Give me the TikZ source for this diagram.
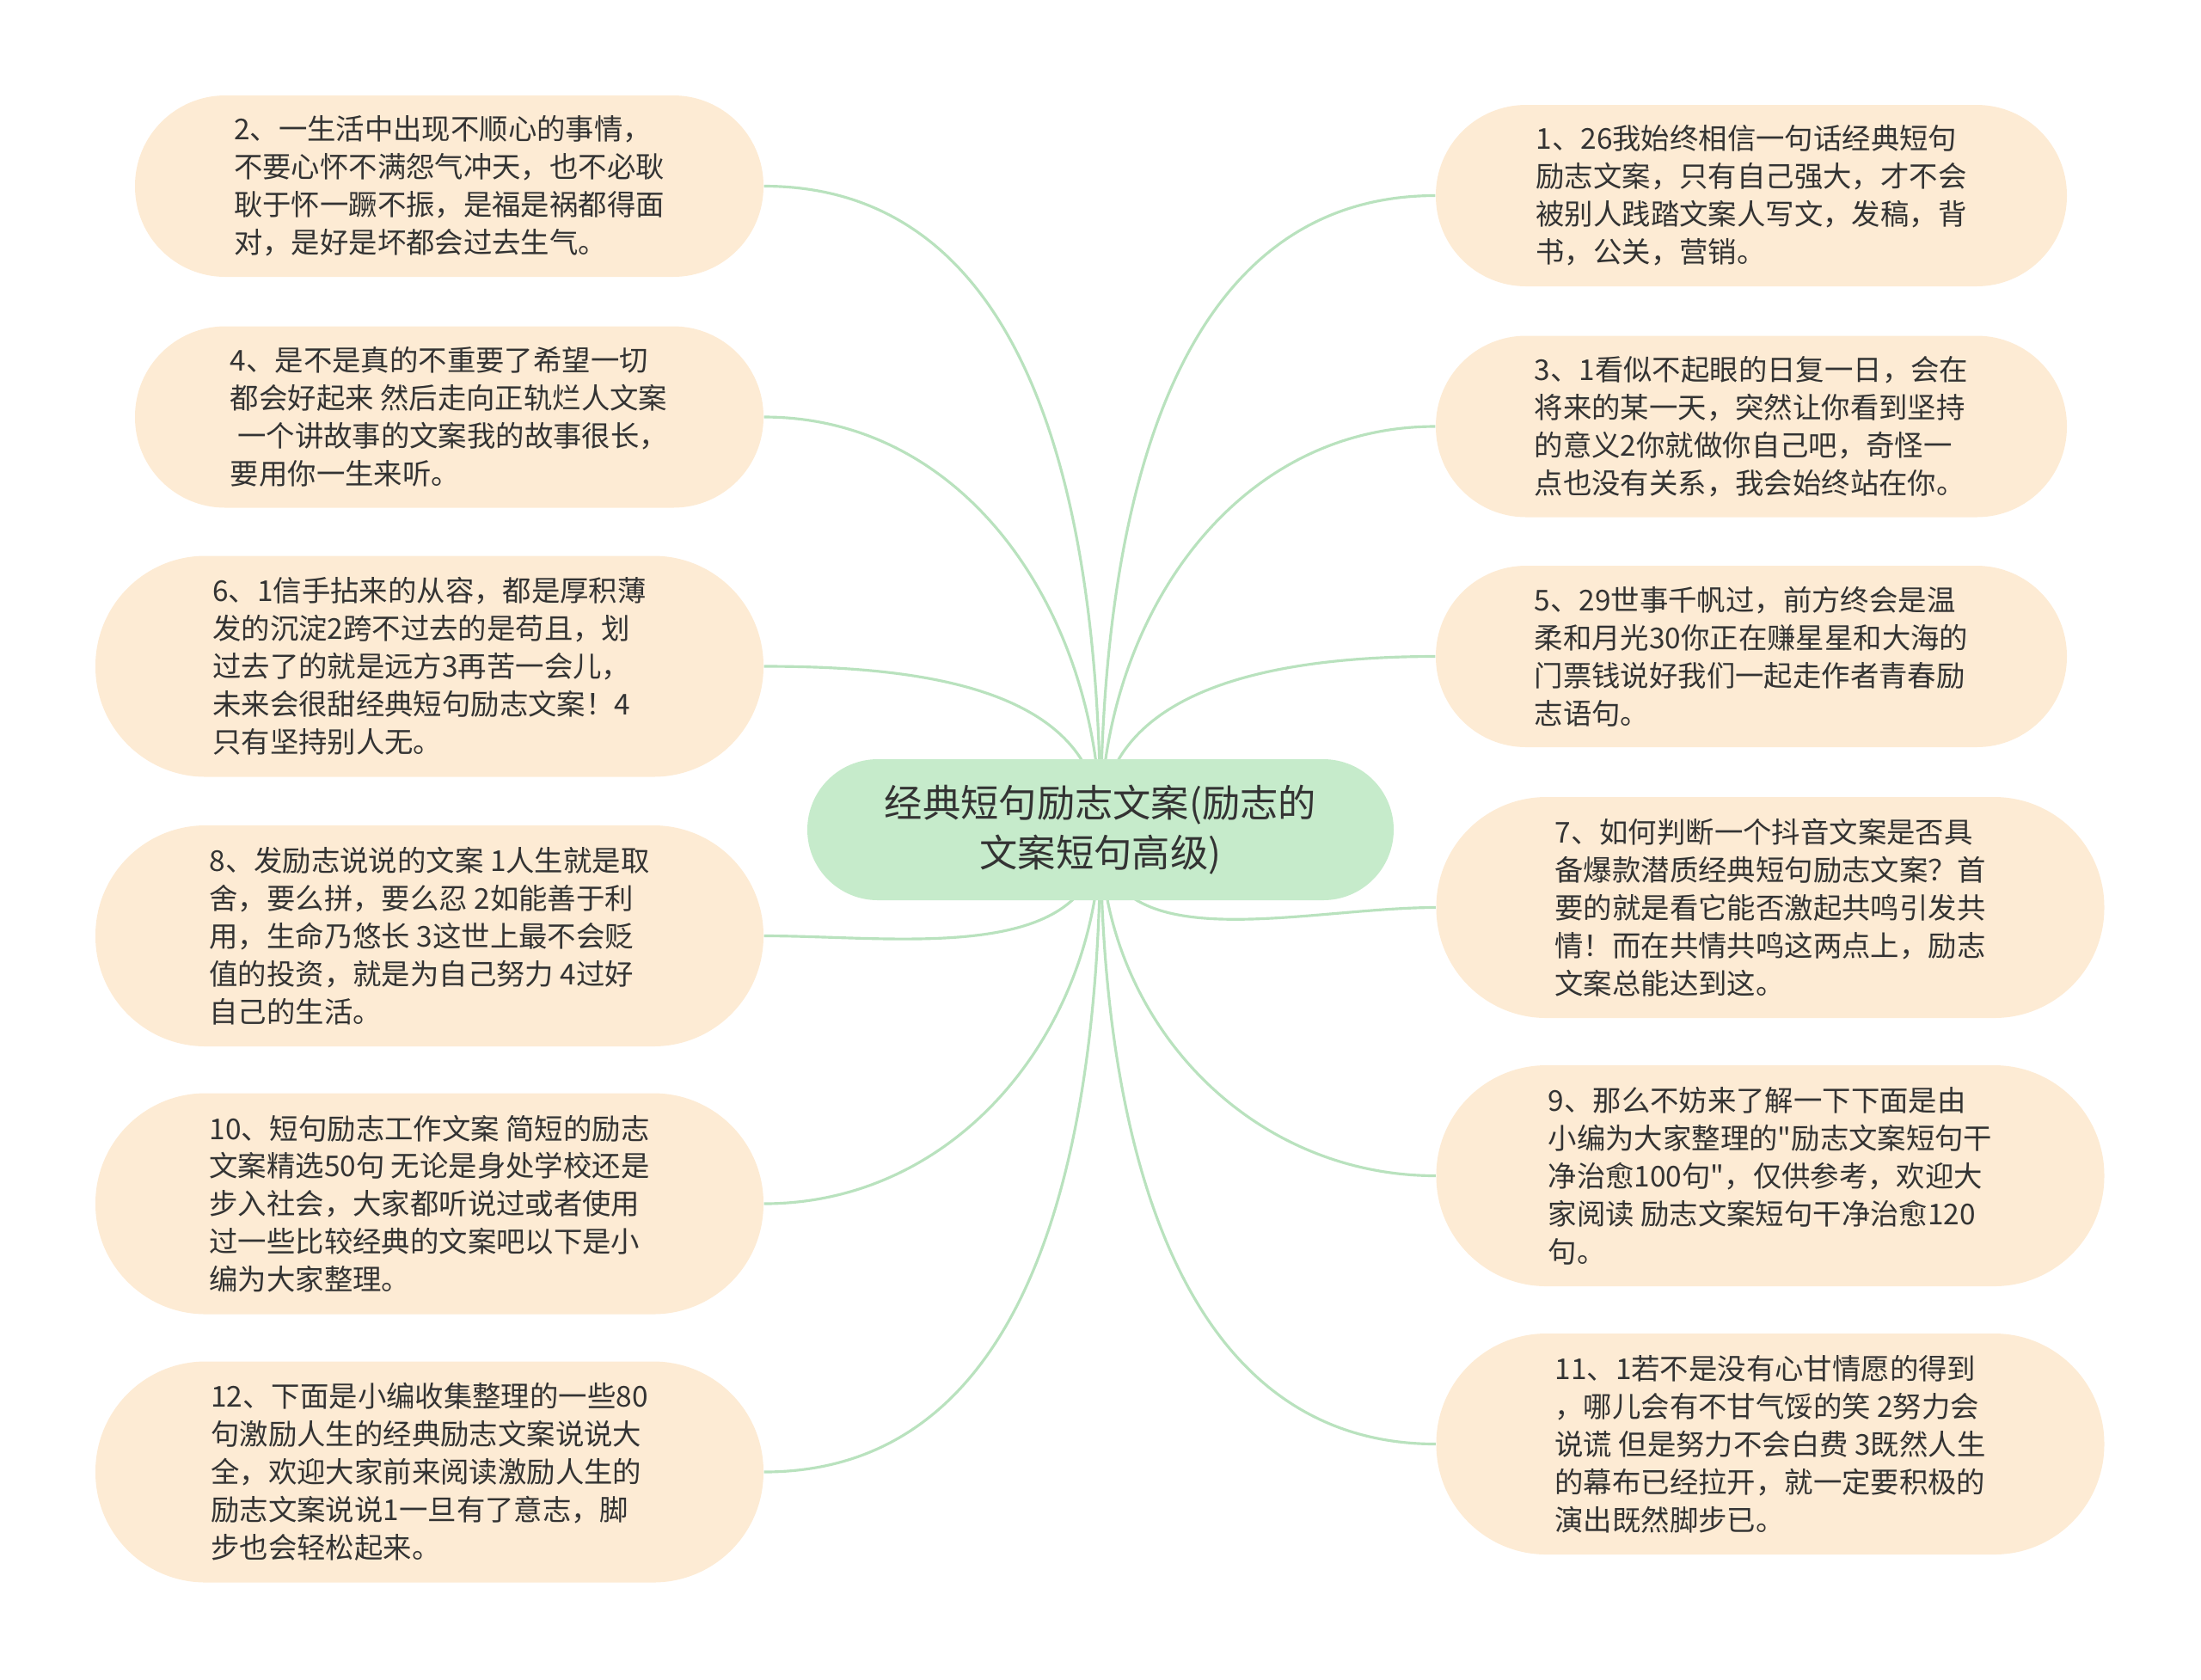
\documentclass[tikz,border=0pt]{standalone}
\usepackage{fontspec}
\newfontfamily\cjkfont{Noto Sans CJK SC}
\usetikzlibrary{backgrounds}
\definecolor{leaffill}{HTML}{FDEBD4}
\definecolor{rootfill}{HTML}{C6EBCB}
\definecolor{branchcol}{HTML}{B9E2BE}
\definecolor{txtcol}{HTML}{333333}
\tikzset{
    leaf/.style={rectangle, rounded corners=1.05cm, fill=leaffill, text=txtcol, align=left, inner sep=0pt, minimum width=7.31cm, minimum height=2.11cm, font=\cjkfont\fontsize{9.5}{12.5}\selectfont}, % four-line boxes
    tallleaf/.style={leaf, rounded corners=1.28cm, minimum width=7.77cm, minimum height=2.57cm}, % five-line boxes
    mainidea/.style={rectangle, rounded corners=0.82cm, fill=rootfill, text=txtcol, align=center, inner sep=0pt, minimum width=6.82cm, minimum height=1.64cm, font=\cjkfont\fontsize{12.6}{16.7}\selectfont},
    branch/.style={draw=branchcol, line width=0.9pt}
}

\begin{document}
\begin{tikzpicture}
    \useasboundingbox (0,0) rectangle (25.6,-19.53);

    \node[mainidea] (root) at (12.80,-9.65) {经典短句励志文案(励志的\\文案短句高级)};

    % left column
    \node[leaf] (n2) at (5.225,-2.165) {2、一生活中出现不顺心的事情，\\不要心怀不满怨气冲天，也不必耿\\耿于怀一蹶不振，是福是祸都得面\\对，是好是坏都会过去生气。};
    \node[leaf] (n4) at (5.225,-4.85) {4、是不是真的不重要了希望一切\\都会好起来 然后走向正轨烂人文案\\\hspace{0.25em}一个讲故事的文案我的故事很长，\\要用你一生来听。};
    \node[tallleaf] (n6) at (4.995,-7.75) {6、1信手拈来的从容，都是厚积薄\\发的沉淀2跨不过去的是苟且，划\\过去了的就是远方3再苦一会儿，\\未来会很甜经典短句励志文案！4\\只有坚持别人无。};
    \node[tallleaf] (n8) at (4.995,-10.885) {8、发励志说说的文案 1人生就是取\\舍，要么拼，要么忍 2如能善于利\\用，生命乃悠长 3这世上最不会贬\\值的投资，就是为自己努力 4过好\\自己的生活。};
    \node[tallleaf] (n10) at (4.995,-14.00) {10、短句励志工作文案 简短的励志\\文案精选50句 无论是身处学校还是\\步入社会，大家都听说过或者使用\\过一些比较经典的文案吧以下是小\\编为大家整理。};
    \node[tallleaf] (n12) at (4.995,-17.12) {12、下面是小编收集整理的一些80\\句激励人生的经典励志文案说说大\\全，欢迎大家前来阅读激励人生的\\励志文案说说1一旦有了意志，脚\\步也会轻松起来。};

    % right column
    \node[leaf, minimum width=7.34cm] (n1) at (20.37,-2.275) {1、26我始终相信一句话经典短句\\励志文案，只有自己强大，才不会\\被别人践踏文案人写文，发稿，背\\书，公关，营销。};
    \node[leaf, minimum width=7.34cm] (n3) at (20.37,-4.96) {3、1看似不起眼的日复一日，会在\\将来的某一天，突然让你看到坚持\\的意义2你就做你自己吧，奇怪一\\点也没有关系，我会始终站在你。};
    \node[leaf, minimum width=7.34cm] (n5) at (20.37,-7.635) {5、29世事千帆过，前方终会是温\\柔和月光30你正在赚星星和大海的\\门票钱说好我们一起走作者青春励\\志语句。};
    \node[tallleaf] (n7) at (20.59,-10.555) {7、如何判断一个抖音文案是否具\\备爆款潜质经典短句励志文案？首\\要的就是看它能否激起共鸣引发共\\情！而在共情共鸣这两点上，励志\\文案总能达到这。};
    \node[tallleaf] (n9) at (20.59,-13.675) {9、那么不妨来了解一下下面是由\\小编为大家整理的"励志文案短句干\\净治愈100句"，仅供参考，欢迎大\\家阅读 励志文案短句干净治愈120\\句。};
    \node[tallleaf] (n11) at (20.59,-16.795) {11、1若不是没有心甘情愿的得到\\，哪儿会有不甘气馁的笑 2努力会\\说谎 但是努力不会白费 3既然人生\\的幕布已经拉开，就一定要积极的\\演出既然脚步已。};

    \begin{scope}[on background layer]
        \draw[branch] (root.center) to[out=90,in=0] (n2.east);
        \draw[branch] (root.center) to[out=90,in=0] (n4.east);
        \draw[branch] (root.center) to[out=90,in=0] (n6.east);
        \draw[branch] (root.center) to[out=-90,in=0] (n8.east);
        \draw[branch] (root.center) to[out=-90,in=0] (n10.east);
        \draw[branch] (root.center) to[out=-90,in=0] (n12.east);
        \draw[branch] (root.center) to[out=90,in=180] (n1.west);
        \draw[branch] (root.center) to[out=90,in=180] (n3.west);
        \draw[branch] (root.center) to[out=90,in=180] (n5.west);
        \draw[branch] (root.center) to[out=-90,in=180] (n7.west);
        \draw[branch] (root.center) to[out=-90,in=180] (n9.west);
        \draw[branch] (root.center) to[out=-90,in=180] (n11.west);
    \end{scope}
\end{tikzpicture}
\end{document}
